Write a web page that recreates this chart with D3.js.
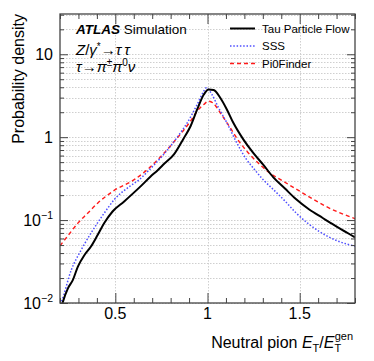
<!DOCTYPE html>
<html><head><meta charset="utf-8">
<script src="https://cdn.jsdelivr.net/npm/d3@7"></script>
<style>
body{margin:0;background:#fff}
svg{display:block}
text{font-family:"Liberation Sans",Arial,Helvetica,sans-serif;fill:#000}
</style>
</head><body>
<svg id="c" width="374" height="361"></svg>
<script>
// ---- data ----
const seriesNames = ["Tau Particle Flow", "SSS", "Pi0Finder"];
const tauX = [0.205,0.216,0.243,0.27,0.297,0.333,0.368,0.404,0.44,0.485,0.548,0.637,0.69,0.73,0.765,0.818,0.872,0.908,0.944,0.98,1.006,1.033,1.069,1.105,1.14,1.195,1.248,1.302,1.356,1.42,1.481,1.55,1.625,1.669,1.73,1.8];
const tauY = [0.0085,0.0104,0.015,0.019,0.0275,0.038,0.048,0.066,0.092,0.127,0.168,0.255,0.333,0.40,0.477,0.62,0.98,1.355,2.16,3.27,3.76,3.7,2.99,2.16,1.49,0.935,0.646,0.466,0.33,0.24,0.178,0.135,0.106,0.092,0.076,0.062];
const sssX = [0.2,0.207,0.261,0.315,0.368,0.44,0.494,0.583,0.63,0.673,0.765,0.836,0.89,0.944,0.98,0.994,1.024,1.06,1.105,1.159,1.212,1.25,1.30,1.356,1.42,1.481,1.607,1.714,1.8];
const sssY = [0.0097,0.0104,0.025,0.0437,0.0696,0.1216,0.176,0.26,0.307,0.38,0.63,1.0,1.49,2.48,3.59,3.94,3.27,2.26,1.49,0.853,0.536,0.42,0.31,0.235,0.17,0.1216,0.0728,0.0551,0.0485];
const pi0X = [0.2,0.25,0.297,0.35,0.404,0.494,0.602,0.673,0.765,0.836,0.908,0.944,0.98,1.006,1.033,1.069,1.123,1.177,1.23,1.284,1.338,1.41,1.517,1.643,1.8];
const pi0Y = [0.049,0.068,0.092,0.121,0.16,0.228,0.307,0.405,0.646,0.98,1.56,2.06,2.48,2.72,2.55,1.97,1.3,0.853,0.616,0.466,0.37,0.295,0.212,0.146,0.104];
const xMajorTicks = [0.5, 1, 1.5];
const xTickLabels = ["0.5", "1", "1.5"];
const yMajorTicks = [0.01, 0.1, 1, 10];
const yTickLabels = [["10","\u22122"],["10","\u22121"],["1",""],["10",""]];

// ---- layout ----
const L=60, R=355, T=14, B=303;
const svg = d3.select("#c");
const x = d3.scaleLinear().domain([0.2,1.8]).range([L,R]);
const y = d3.scaleLog().domain([0.01,30.6]).range([B,T]);

const xMinor = d3.range(0.2,1.8001,0.1).map(v=>+v.toFixed(2)).filter(v=>!xMajorTicks.includes(v));
const yMinor = [];
for (let d=-2; d<=1; d++) for (let k=2;k<=9;k++){const v=k*Math.pow(10,d); if(v<=30.6) yMinor.push(v);}

// grid
const grid = svg.append("g").attr("stroke","#cfcfcf").attr("stroke-width",1).attr("stroke-dasharray","1.5,1.5");
grid.selectAll("line.h").data(yMajorTicks.concat(yMinor)).join("line")
  .attr("x1",L).attr("x2",R).attr("y1",d=>Math.round(y(d))+0.5).attr("y2",d=>Math.round(y(d))+0.5);
grid.selectAll("line.v").data(xMajorTicks).join("line")
  .attr("y1",T).attr("y2",B).attr("x1",d=>Math.round(x(d))+0.5).attr("x2",d=>Math.round(x(d))+0.5);

// curves
svg.append("clipPath").attr("id","pc").append("rect").attr("x",L).attr("y",T).attr("width",R-L).attr("height",B-T);
const line = d3.line().x(d=>x(d[0])).y(d=>y(d[1])).curve(d3.curveMonotoneX);
const plot = svg.append("g").attr("clip-path","url(#pc)");
const styles = [
  {stroke:"#000", w:2, dash:null},
  {stroke:"#4d4dff", w:1.5, dash:"1.5,1.8"},
  {stroke:"#ff1a1a", w:1.4, dash:"4,3"}
];
const data = [d3.zip(tauX,tauY), d3.zip(sssX,sssY), d3.zip(pi0X,pi0Y)];
[2,1,0].forEach(i=>{
  plot.append("path").datum(data[i]).attr("d",line).attr("fill","none")
    .attr("stroke",styles[i].stroke).attr("stroke-width",styles[i].w)
    .attr("stroke-dasharray",styles[i].dash);
});

// axes (ticks inward)
const axCol = "#444";
function styleAx(g){ g.select(".domain").remove(); g.selectAll("line").attr("stroke",axCol).attr("stroke-width",1); g.selectAll("text").remove(); }
svg.append("g").attr("transform",`translate(0,${B})`).call(d3.axisBottom(x).tickValues(xMajorTicks).tickSize(-10)).call(styleAx);
svg.append("g").attr("transform",`translate(0,${B})`).call(d3.axisBottom(x).tickValues(xMinor).tickSize(-5)).call(styleAx);
svg.append("g").attr("transform",`translate(0,${T})`).call(d3.axisTop(x).tickValues(xMajorTicks).tickSize(-10)).call(styleAx);
svg.append("g").attr("transform",`translate(0,${T})`).call(d3.axisTop(x).tickValues(xMinor).tickSize(-5)).call(styleAx);
svg.append("g").attr("transform",`translate(${L},0)`).call(d3.axisLeft(y).tickValues(yMajorTicks).tickSize(-8)).call(styleAx);
svg.append("g").attr("transform",`translate(${L},0)`).call(d3.axisLeft(y).tickValues(yMinor).tickSize(-4)).call(styleAx);
svg.append("g").attr("transform",`translate(${R},0)`).call(d3.axisRight(y).tickValues(yMajorTicks).tickSize(-8)).call(styleAx);
svg.append("g").attr("transform",`translate(${R},0)`).call(d3.axisRight(y).tickValues(yMinor).tickSize(-4)).call(styleAx);

// frame
svg.append("rect").attr("x",L).attr("y",T).attr("width",R-L).attr("height",B-T)
  .attr("fill","none").attr("stroke",axCol).attr("stroke-width",1.3);

// tick labels
svg.selectAll("text.xl").data(xMajorTicks).join("text").attr("class","xl")
  .attr("x",d=>x(d)).attr("y",B+15.5).attr("text-anchor","middle").attr("font-size",16)
  .text((d,i)=>xTickLabels[i]);
const yl = svg.selectAll("text.yl").data(yMajorTicks).join("text").attr("class","yl")
  .attr("x",53).attr("y",d=>y(d)+5.5).attr("text-anchor","end").attr("font-size",16);
yl.each(function(d,i){
  const t=d3.select(this);
  t.append("tspan").text(yTickLabels[i][0]);
  if(yTickLabels[i][1]) t.append("tspan").attr("font-size",10.5).attr("dy",-7).text(yTickLabels[i][1]);
});

// axis titles
svg.append("text").attr("transform","translate(24,14) rotate(-90)").attr("text-anchor","end")
  .attr("font-size",16).text("Probability density");
const xt = svg.append("text").attr("x",353).attr("y",348).attr("text-anchor","end").attr("font-size",16);
xt.append("tspan").text("Neutral pion ");
xt.append("tspan").attr("font-style","italic").text("E");
xt.append("tspan").attr("font-size",11).attr("dy",4).text("T");
xt.append("tspan").attr("dy",-4).text("/");
xt.append("tspan").attr("font-style","italic").text("E");
xt.append("tspan").attr("font-size",11).attr("dy",4).text("T");
xt.append("tspan").attr("font-size",11).attr("dx",-6.5).attr("dy",-12).text("gen");

// ATLAS label
const at = svg.append("text").attr("x",76).attr("y",33.5).attr("font-size",13.5);
at.append("tspan").attr("font-weight","bold").attr("font-style","italic").text("ATLAS");
at.append("tspan").text(" Simulation");
const serif = '"Liberation Serif","Times New Roman",serif';
const l1 = svg.append("text").attr("x",76).attr("y",55).attr("font-size",15).attr("font-family",serif);
l1.append("tspan").attr("font-style","italic").text("Z");
l1.append("tspan").text("/");
l1.append("tspan").attr("font-style","italic").text("\u03b3");
l1.append("tspan").attr("font-size",10).attr("dy",-5).text("*");
l1.append("tspan").attr("dy",5).text("\u2192");
l1.append("tspan").attr("font-style","italic").text("\u03c4\u2009\u03c4");
const l2 = svg.append("text").attr("x",76).attr("y",72).attr("font-size",15).attr("font-family",serif);
l2.append("tspan").attr("font-style","italic").text("\u03c4");
l2.append("tspan").text("\u2192");
l2.append("tspan").attr("font-style","italic").text("\u03c0");
l2.append("tspan").attr("font-size",10).attr("dy",-6).text("\u00b1");
l2.append("tspan").attr("dy",6).attr("font-style","italic").text("\u03c0");
l2.append("tspan").attr("font-size",10).attr("dy",-6).text("0");
l2.append("tspan").attr("dy",6).attr("font-style","italic").text("\u03bd");

// legend
const lg = svg.append("g");
const rowY = [28.5, 46, 63.5];
seriesNames.forEach((n,i)=>{
  lg.append("line").attr("x1",230).attr("x2",255).attr("y1",rowY[i]).attr("y2",rowY[i])
    .attr("stroke",styles[i].stroke).attr("stroke-width",styles[i].w).attr("stroke-dasharray",styles[i].dash);
  lg.append("text").attr("x",262).attr("y",rowY[i]+4).attr("font-size",11.5).text(n);
});
</script>
</body></html>
